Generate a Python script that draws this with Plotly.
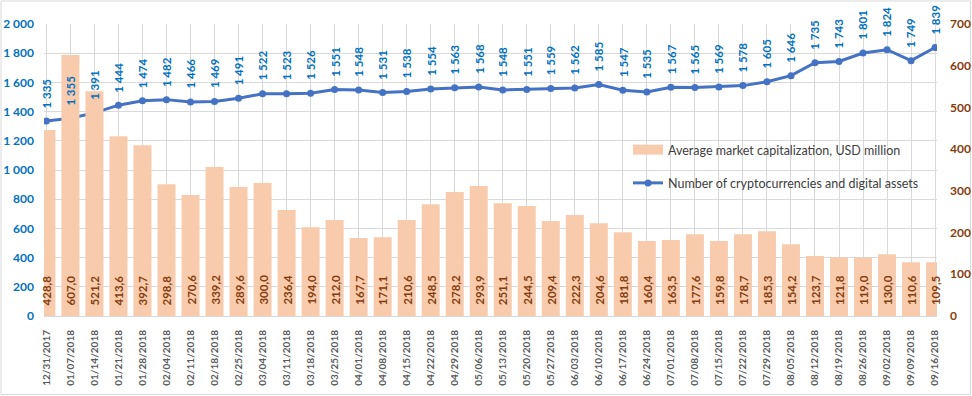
import plotly.graph_objects as go

dates = ["12/31/2017", "01/07/2018", "01/14/2018", "01/21/2018", "01/28/2018", "02/04/2018",
         "02/11/2018", "02/18/2018", "02/25/2018", "03/04/2018", "03/11/2018", "03/18/2018",
         "03/25/2018", "04/01/2018", "04/08/2018", "04/15/2018", "04/22/2018", "04/29/2018",
         "05/06/2018", "05/13/2018", "05/20/2018", "05/27/2018", "06/03/2018", "06/10/2018",
         "06/17/2018", "06/24/2018", "07/01/2018", "07/08/2018", "07/15/2018", "07/22/2018",
         "07/29/2018", "08/05/2018", "08/12/2018", "08/19/2018", "08/26/2018", "09/02/2018",
         "09/09/2018", "09/16/2018"]

num_assets = [1335, 1355, 1391, 1444, 1474, 1482, 1466, 1469, 1491, 1522, 1523, 1526,
              1551, 1548, 1531, 1538, 1554, 1563, 1568, 1548, 1551, 1559, 1562, 1585,
              1547, 1535, 1567, 1565, 1569, 1578, 1605, 1646, 1735, 1743, 1801, 1824,
              1749, 1839]

# data labels shown on the bars
cap_labels = [428.8, 607.0, 521.2, 413.6, 392.7, 298.8, 270.6, 339.2, 289.6, 300.0, 236.4, 194.0,
              212.0, 167.7, 171.1, 210.6, 248.5, 278.2, 293.9, 251.1, 244.5, 209.4, 222.3, 204.6,
              181.8, 160.4, 163.5, 177.6, 159.8, 178.7, 185.3, 154.2, 123.7, 121.8, 119.0, 130.0,
              110.6, 109.5]

# bar heights as drawn (read against the right axis)
cap_heights = [445.6, 625.5, 539, 431, 409.5, 316, 290, 357, 309, 319, 254, 213,
               230, 187, 189, 230, 268, 297, 311.5, 270.5, 263.5, 227.5, 242, 222.5,
               201, 179.5, 182, 196, 179.5, 196, 203, 172, 144, 141, 140, 148,
               129, 129]

bar_name = "Average market capitalization, USD million"
line_name = "Number of cryptocurrencies and digital assets"

BLUE_TXT = "#0070C0"
BROWN = "#843C0C"
PEACH = "#F8CBAD"
GRID = "#D9D9D9"
FONT = "Lato"

fig = go.Figure()
fig.add_trace(go.Bar(
    x=dates, y=cap_heights, name=bar_name, yaxis="y2",
    marker=dict(color=PEACH, line=dict(width=0)), width=0.75,
    showlegend=False,
))
# legend entry for the bars (wide rectangle swatch)
fig.add_trace(go.Scatter(
    x=[None], y=[None], name=bar_name, mode="lines", yaxis="y2",
    line=dict(color=PEACH, width=12), legendgroup="a",
))
fig.add_trace(go.Scatter(
    x=dates, y=num_assets, name=line_name, mode="lines+markers",
    line=dict(color="#4472C4", width=3), marker=dict(size=7, color="#4472C4"),
    legendgroup="b",
))

annotations = []
for d, v in zip(dates, num_assets):
    annotations.append(dict(
        x=d, y=v, xref="x", yref="y", text=f"{v:,}".replace(",", " "),
        showarrow=False, textangle=-90, xanchor="center", yanchor="bottom", yshift=11,
        font=dict(family=FONT, size=11.5, color=BLUE_TXT, weight="bold"),
    ))
for d, v in zip(dates, cap_labels):
    annotations.append(dict(
        x=d, y=0, xref="x", yref="y2", text=f"{v:.1f}".replace(".", ","),
        showarrow=False, textangle=-90, xanchor="center", yanchor="bottom", yshift=9,
        font=dict(family=FONT, size=11.5, color=BROWN, weight="bold"),
    ))

L, R, T, B = 44, 35, 24, 80
W, H = 972, 396
pw, ph = W - L - R, H - T - B

fig.update_layout(
    width=W, height=H,
    margin=dict(l=L, r=R, t=T, b=B, autoexpand=False),
    paper_bgcolor="white", plot_bgcolor="white",
    separators=", ",
    font=dict(family=FONT),
    showlegend=True,
    legend=dict(
        x=(628 - L) / pw, y=(316 - 135) / ph, xanchor="left", yanchor="top",
        bgcolor="rgba(0,0,0,0)", font=dict(family=FONT, size=12.5, color="#404040"),
        tracegroupgap=14, itemwidth=30,
    ),
    xaxis=dict(
        type="category", range=[-0.1, 37.08], showgrid=True, gridcolor=GRID, gridwidth=1,
        tickangle=-90, tickfont=dict(family=FONT, size=10, color="#595959", weight="bold"),
        showline=True, linecolor=GRID, ticks="", ticklabelstandoff=9, automargin=False,
    ),
    yaxis=dict(
        range=[0, 2000], dtick=200, tickformat=",d", showgrid=True, gridcolor=GRID,
        zeroline=False, tickfont=dict(family=FONT, size=12, color=BLUE_TXT, weight="bold"),
        ticks="", ticklabelstandoff=9, automargin=False,
    ),
    yaxis2=dict(
        range=[0, 700], dtick=100, overlaying="y", side="right", showgrid=False,
        zeroline=False, tickfont=dict(family=FONT, size=12, color=BROWN, weight="bold"),
        ticks="", ticklabelstandoff=12, automargin=False,
    ),
    annotations=annotations,
    shapes=[dict(
        type="rect", xref="paper", yref="paper",
        x0=(1 - L) / pw, x1=(W - 1.5 - L) / pw,
        y0=-(B - 1.5) / ph, y1=(ph + T - 1) / ph,
        line=dict(color=GRID, width=1), layer="below",
    )],
)

fig.write_html("out.html", config={"displayModeBar": False},
               post_script="document.body.style.margin='0px';")
